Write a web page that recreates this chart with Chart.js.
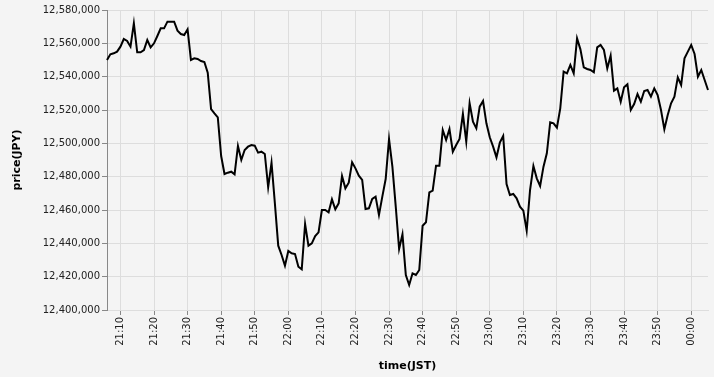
<!DOCTYPE html>
<html>
<head>
<meta charset="utf-8">
<script src="https://cdn.jsdelivr.net/npm/chart.js@4"></script>
<style>
  html, body { margin: 0; padding: 0; background: #f4f4f4; }
  #wrap { width: 714px; height: 377px; }
</style>
</head>
<body>
<div id="wrap"><canvas id="priceChart" width="714" height="377"></canvas></div>
<script>
// one point per minute, starting at 21:06 (JST)
const startHour = 21;
const startMinute = 6;

const prices = [
    12550000, 12553400, 12554000, 12555000, 12558000, 12562600, 12561400, 12558000, 12572000, 12554600,
    12554600, 12556000, 12562000, 12557600, 12560000, 12564400, 12569000, 12569000, 12573000, 12573000,
    12573000, 12567600, 12565600, 12565000, 12568400, 12550000, 12551000, 12550600, 12549400, 12548800,
    12542400, 12520600, 12518000, 12515600, 12492400, 12481600, 12482400, 12483000, 12481400, 12498400,
    12490000, 12496000, 12498000, 12499000, 12498600, 12494400, 12495000, 12493600, 12473600, 12488400,
    12464000, 12438600, 12433000, 12426600, 12435400, 12434000, 12433600, 12426000, 12424400, 12451600,
    12438600, 12440000, 12444400, 12446600, 12460000, 12460000, 12458600, 12466400, 12460400, 12464000,
    12480400, 12473000, 12476400, 12488600, 12485000, 12480600, 12478000, 12460600, 12461000, 12466600,
    12468000, 12457000, 12468000, 12478600, 12502600, 12486000, 12462000, 12436600, 12445400, 12421000,
    12415000, 12422000, 12421000, 12424000, 12450600, 12452600, 12470600, 12471600, 12486600, 12486600,
    12508000, 12502000, 12508600, 12495000, 12499000, 12502600, 12517600, 12501000, 12524000, 12513000,
    12509000, 12522000, 12525400, 12512000, 12503600, 12498000, 12491600, 12500400, 12504400, 12475600,
    12469000, 12469600, 12467000, 12462000, 12459600, 12447600, 12472000, 12486400, 12479000, 12474400,
    12486000, 12494000, 12512600, 12512000, 12509400, 12521000, 12543000, 12542000, 12547000, 12542000,
    12563000, 12556400, 12545600, 12544600, 12544000, 12542600, 12557600, 12559000, 12556000, 12545000,
    12552600, 12531600, 12533000, 12525000, 12533600, 12535400, 12520000, 12523600, 12529600, 12525000,
    12531400, 12532000, 12528000, 12533000, 12529000, 12520000, 12508400, 12517000, 12524000, 12528000,
    12539600, 12535000, 12551000, 12555000, 12559000, 12553600, 12540000, 12544000, 12538000, 12532000
];

const yTicks = [12400000, 12420000, 12440000, 12460000, 12480000, 12500000, 12520000, 12540000, 12560000, 12580000];

// minute labels for each point
const times = prices.map((p, i) => {
    const total = (startHour * 60 + startMinute + i) % 1440;
    const hh = String(Math.floor(total / 60)).padStart(2, '0');
    const mm = String(total % 60).padStart(2, '0');
    return hh + ':' + mm;
});

const bgPlugin = {
    id: 'bg',
    beforeDraw(chart) {
        const c = chart.ctx;
        c.save();
        c.fillStyle = '#f4f4f4';
        c.fillRect(0, 0, chart.width, chart.height);
        c.restore();
    }
};

Chart.defaults.font.family = '"DejaVu Sans", sans-serif';
Chart.defaults.color = '#222';

const ctx = document.getElementById('priceChart').getContext('2d');
new Chart(ctx, {
    type: 'line',
    data: {
        labels: times,
        datasets: [{
            label: 'price',
            data: prices,
            borderColor: '#000',
            borderWidth: 2,
            pointRadius: 0,
            tension: 0,
            fill: false
        }]
    },
    options: {
        responsive: false,
        animation: false,
        layout: { padding: { left: 0, top: 10, right: 6, bottom: 0 } },
        plugins: {
            legend: { display: false },
            tooltip: { enabled: false }
        },
        scales: {
            x: {
                type: 'category',
                offset: false,
                grid: { color: '#dddddd', tickColor: '#888888', tickLength: 5 },
                border: { color: '#dddddd' },
                ticks: {
                    autoSkip: false,
                    minRotation: 90,
                    maxRotation: 90,
                    padding: 2,
                    font: { size: 10 },
                    callback: function(val, idx) {
                        const t = times[idx];
                        return t.endsWith('0') ? t : null;
                    }
                },
                title: {
                    display: true,
                    text: 'time(JST)',
                    font: { size: 11, weight: 'bold' },
                    color: '#000',
                    padding: { top: 0, bottom: 4 }
                },
                afterFit(scale) { scale.height = 67; }
            },
            y: {
                min: yTicks[0],
                max: yTicks[yTicks.length - 1],
                afterBuildTicks(scale) { scale.ticks = yTicks.map(v => ({ value: v })); },
                grid: { color: '#dddddd', tickColor: '#888888', tickLength: 5 },
                border: { color: '#888888' },
                ticks: {
                    padding: 2,
                    font: { size: 10 },
                    callback: v => v.toLocaleString('en-US')
                },
                title: {
                    display: true,
                    text: 'price(JPY)',
                    font: { size: 11, weight: 'bold' },
                    color: '#000',
                    padding: { top: 11, bottom: 0 }
                },
                afterFit(scale) { scale.width = 107; }
            }
        }
    },
    plugins: [bgPlugin]
});
</script>
</body>
</html>
